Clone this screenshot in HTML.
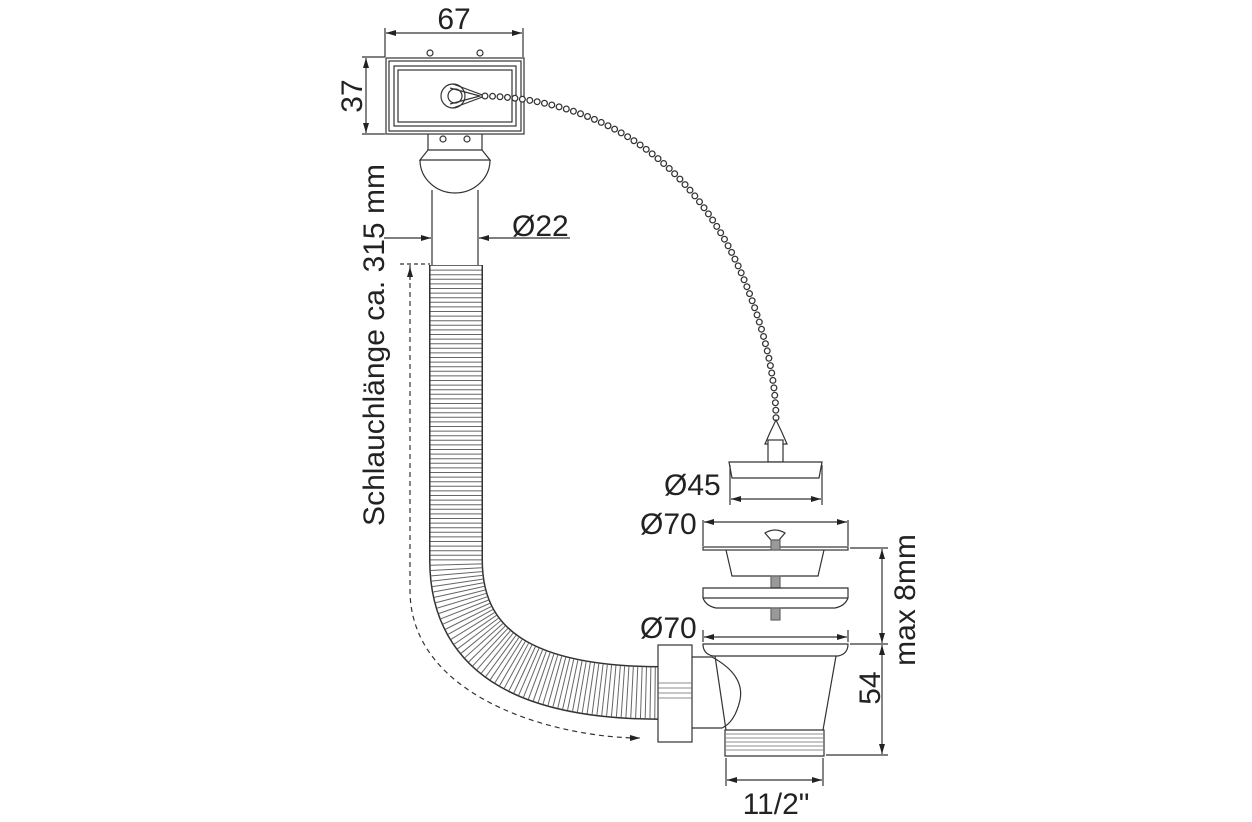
<!DOCTYPE html>
<html><head><style>
html,body{margin:0;padding:0;background:#fff;}
svg{display:block;}
text{font-family:"Liberation Sans",sans-serif;fill:#222;}
</style></head><body>
<svg width="1252" height="822" viewBox="0 0 1252 822" xmlns="http://www.w3.org/2000/svg">
<defs>
<marker id="a" viewBox="0 0 10 6" refX="10" refY="3" markerWidth="14" markerHeight="6" markerUnits="userSpaceOnUse" orient="auto-start-reverse"><path d="M0,0 L10,3 L0,6z" fill="#222"/></marker>
</defs>
<g stroke="#333" fill="none" stroke-width="1.2">
<line x1="385" y1="28" x2="385" y2="57"/><line x1="523" y1="28" x2="523" y2="57"/>
<line x1="386" y1="33" x2="522" y2="33" marker-start="url(#a)" marker-end="url(#a)"/>
<line x1="362" y1="57" x2="385" y2="57"/><line x1="362" y1="134" x2="385" y2="134"/>
<line x1="366" y1="58" x2="366" y2="133" marker-start="url(#a)" marker-end="url(#a)"/>
<rect x="386" y="58" width="138" height="76"/>
<rect x="389" y="61" width="132" height="70"/>
<rect x="394" y="66" width="122" height="60"/>
<rect x="398" y="70" width="114" height="52"/>
<circle cx="430" cy="53" r="3"/><circle cx="480" cy="53" r="3"/>
<circle cx="443" cy="139" r="3"/><circle cx="467" cy="139" r="3"/>
<circle cx="453" cy="96" r="12"/><circle cx="455" cy="96" r="7"/>
<path d="M453,84 L485,96 L453,108"/><path d="M450,88 L480,96 L450,104"/>
<path d="M428,134 L428,150 M482,134 L482,150"/>
<path d="M428,150 L420,160 L490,160 L482,150 Z"/>
<path d="M420,160 A35,33 0 0 0 490,160"/>
<path d="M432,190 L432,265 M478,190 L478,265"/>
<line x1="384" y1="238" x2="431" y2="238" marker-end="url(#a)"/>
<line x1="479" y1="238" x2="570" y2="238" marker-start="url(#a)"/>
<path d="M410,265 L410,590 C410,700 560,738 640,738" stroke-dasharray="5,4" marker-end="url(#a)"/>
<line x1="410" y1="280" x2="410" y2="267" marker-end="url(#a)"/>
<line x1="400" y1="264" x2="430" y2="264" stroke-dasharray="4,3"/>
</g>
<path d="M456,265 L456,560 C456,660 540,693 662,693" fill="none" stroke="#333" stroke-width="54"/>
<path d="M456,265 L456,560 C456,660 540,693 662,693" fill="none" stroke="#fff" stroke-width="51"/>
<path d="M456,265 L456,560 C456,660 540,693 662,693" fill="none" stroke="#666" stroke-width="51" stroke-dasharray="1,3.6"/>
<path d="M485,96 C620,100 700,180 740,270 C770,340 776,390 776,420" fill="none" stroke="#333" stroke-width="7" stroke-linecap="round" stroke-dasharray="0,7.5"/>
<path d="M485,96 C620,100 700,180 740,270 C770,340 776,390 776,420" fill="none" stroke="#fff" stroke-width="4.5" stroke-linecap="round" stroke-dasharray="0,7.5"/>
<g stroke="#333" fill="none" stroke-width="1.2">
<path d="M776,420 Q770,432 765,444 L787,444 Q782,432 776,420 Z"/>
<rect x="768" y="440" width="15" height="22" fill="#fff"/>
<path d="M729,462 L822,462 L819,478 L732,478 Z" fill="#fff"/>
<line x1="730" y1="465" x2="730" y2="505"/><line x1="822" y1="465" x2="822" y2="505"/>
<line x1="731" y1="499" x2="821" y2="499" marker-start="url(#a)" marker-end="url(#a)"/>
<line x1="703" y1="520" x2="703" y2="546"/><line x1="848" y1="520" x2="848" y2="546"/>
<line x1="704" y1="522" x2="847" y2="522" marker-start="url(#a)" marker-end="url(#a)"/>
<rect x="703" y="547" width="145" height="3"/>
<path d="M726,550 L732,576 L818,576 L824,550"/>
<path d="M765,533 Q775,527 785,533 L779,540 L771,540 Z"/>
<rect x="771" y="540" width="9" height="10" fill="#999" stroke="#666"/>
<rect x="771" y="576" width="9" height="12" fill="#999" stroke="#666"/>
<path d="M703,588 L848,588 L848,598 Q845,606 835,608 L716,608 Q706,606 703,598 Z"/>
<line x1="703" y1="598" x2="848" y2="598"/>
<rect x="771" y="608" width="9" height="12" fill="#999" stroke="#666"/>
<line x1="703" y1="630" x2="703" y2="642"/><line x1="848" y1="630" x2="848" y2="642"/>
<line x1="704" y1="637" x2="847" y2="637" marker-start="url(#a)" marker-end="url(#a)"/>
<path d="M703,644 L848,644 Q848,654 838,656 L713,656 Q703,654 703,644 Z"/>
<path d="M715,656 L726,730 M836,656 L823,730"/>
<path d="M725,730 L824,730 L824,756 L725,756 Z"/>
<g stroke="#666" stroke-width="0.8">
<line x1="726" y1="734" x2="823" y2="734"/><line x1="726" y1="738" x2="823" y2="738"/><line x1="726" y1="742" x2="823" y2="742"/><line x1="726" y1="746" x2="823" y2="746"/><line x1="726" y1="750" x2="823" y2="750"/>
</g>
<path d="M692,657 L712,657 Q745,675 740,700 Q735,722 722,728 L692,728"/>
<rect x="658" y="645" width="34" height="97" fill="#fff"/>
<g stroke="#666" stroke-width="0.8"><line x1="658" y1="683" x2="692" y2="683"/><line x1="658" y1="688" x2="692" y2="688"/><line x1="658" y1="693" x2="692" y2="693"/><line x1="658" y1="698" x2="692" y2="698"/></g>
<line x1="850" y1="548" x2="888" y2="548"/><line x1="850" y1="644" x2="888" y2="644"/><line x1="826" y1="755" x2="888" y2="755"/>
<line x1="882" y1="549" x2="882" y2="643" marker-start="url(#a)" marker-end="url(#a)"/>
<line x1="882" y1="645" x2="882" y2="754" marker-start="url(#a)" marker-end="url(#a)"/>
<line x1="726" y1="758" x2="726" y2="786"/><line x1="823" y1="758" x2="823" y2="786"/>
<line x1="727" y1="780" x2="822" y2="780" marker-start="url(#a)" marker-end="url(#a)"/>
</g>
<g font-size="30">
<text x="454" y="29" text-anchor="middle">67</text>
<text transform="translate(362,96) rotate(-90)" text-anchor="middle">37</text>
<text transform="translate(384,345) rotate(-90)" text-anchor="middle">Schlauchlänge ca. 315 mm</text>
<text x="512" y="236">Ø22</text>
<text x="664" y="495">Ø45</text>
<text x="640" y="534">Ø70</text>
<text x="640" y="638">Ø70</text>
<text transform="translate(915,600) rotate(-90)" text-anchor="middle">max 8mm</text>
<text transform="translate(880,688) rotate(-90)" text-anchor="middle">54</text>
<text x="776" y="814" text-anchor="middle">11/2"</text>
</g>
</svg>
</body></html>
